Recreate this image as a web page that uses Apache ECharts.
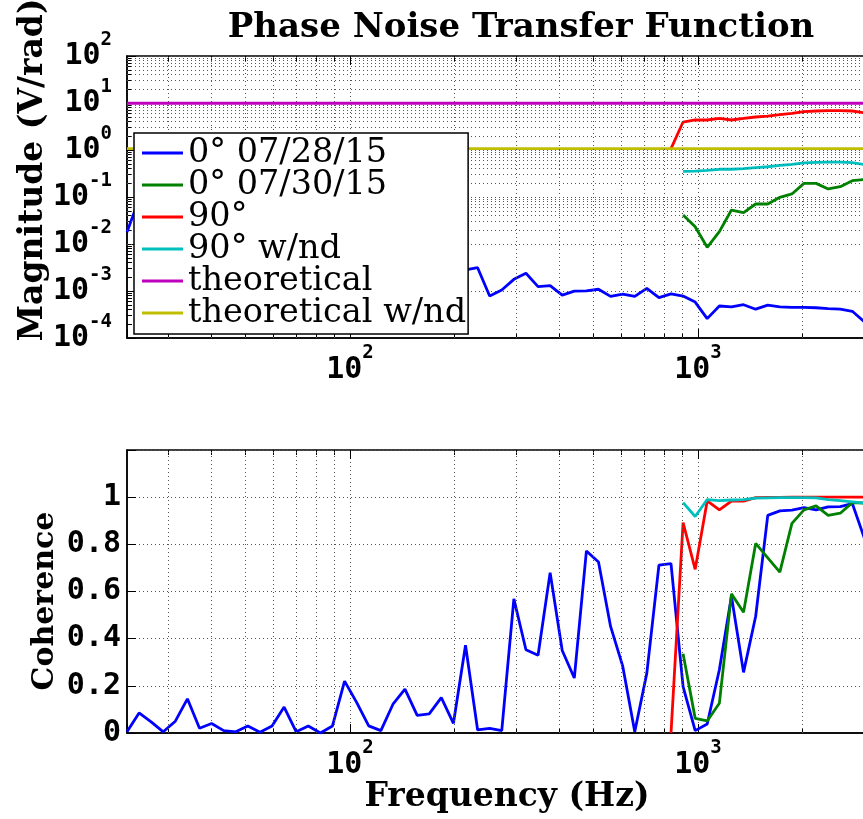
<!DOCTYPE html>
<html><head><meta charset="utf-8">
<script src="https://cdn.jsdelivr.net/npm/echarts@6/dist/echarts.min.js"></script>
<style>html,body{margin:0;padding:0;background:#fff}#c{width:863px;height:819px}</style>
</head><body><div id="c"></div><script>
const freq = [22.87, 24.77, 26.83, 29.07, 31.49, 34.11, 36.95, 40.03, 43.37, 46.97,
  50.88, 55.12, 59.71, 64.68, 70.07, 75.90, 82.22, 89.07, 96.49, 104.5,
  113.2, 122.7, 132.9, 143.9, 156.0, 168.9, 183.0, 198.3, 214.8, 232.7,
  252.0, 273.0, 295.8, 320.4, 347.1, 376.0, 407.3, 441.2, 478.0, 517.8,
  560.9, 607.5, 658.2, 712.9, 772.4, 836.6, 906.2, 981.7, 1063, 1152,
  1248, 1352, 1465, 1587, 1719, 1862, 2017, 2185, 2367, 2564, 2777, 3008];

const names = ['0° 07/28/15', '0° 07/30/15', '90°', '90° w/nd', 'theoretical', 'theoretical w/nd'];
const colors = ['#0000ff', '#008000', '#ff0000', '#00bfbf', '#bf00bf', '#bfbf00'];

// Magnitude (V/rad)
const magBlue = [0.018, 0.09, 0.05, 0.03, 0.04, 0.02, 0.025, 0.015, 0.012, 0.01,
  0.011, 0.008, 0.009, 0.007, 0.006, 0.0065, 0.005, 0.0055, 0.0045, 0.004,
  0.0042, 0.0035, 0.0038, 0.0033, 0.003, 0.0032, 0.0029, 0.0031, 0.0028,
  0.00313, 0.00078, 0.00105, 0.00177, 0.00238, 0.00124, 0.0013, 0.00082, 0.00099, 0.00101,
  0.00109, 0.00077, 0.00086, 0.00077, 0.00114, 0.00072, 0.00087, 0.00078, 0.00058, 0.000258,
  0.00048, 0.00046, 0.00051, 0.00041, 0.0005, 0.00046, 0.00045, 0.00045, 0.00044, 0.00042,
  0.00041, 0.00037, 0.00022];
const greenStart = 46;
const magGreen = [0.0414, 0.0233, 0.0085, 0.0183, 0.0528, 0.0464, 0.071, 0.071, 0.0986, 0.116,
  0.195, 0.195, 0.148, 0.166, 0.222, 0.235];
const redStart = 45;
const magRed = [1.07, 3.94, 4.35, 4.35, 4.72, 4.35, 4.72, 5.04, 5.28, 5.64, 6.03, 6.53, 6.76,
  6.86, 6.86, 6.76, 6.2];
const cyanStart = 46;
const magCyan = [0.352, 0.356, 0.37, 0.389, 0.389, 0.4, 0.42, 0.44, 0.47, 0.495, 0.53, 0.547,
  0.55, 0.55, 0.537, 0.49];
const theory = [9.87, 9.87];
const theoryNd = [1.07, 1.07];

// Coherence
const cohBlue = [0.005, 0.085, 0.047, 0.005, 0.05, 0.145, 0.02, 0.04, 0.01, 0.005,
  0.03, 0.003, 0.03, 0.11, 0.005, 0.03, 0.0, 0.03, 0.22, 0.13,
  0.03, 0.01, 0.122, 0.186, 0.075, 0.081, 0.15, 0.041, 0.372, 0.013,
  0.02, 0.01, 0.569, 0.353, 0.33, 0.68, 0.35, 0.233, 0.772, 0.725,
  0.452, 0.285, 0.005, 0.254, 0.712, 0.718, 0.197, 0.01, 0.038, 0.268,
  0.58, 0.257, 0.495, 0.923, 0.942, 0.945, 0.956, 0.946, 0.959, 0.96, 0.973, 0.826];
const cohGreen = [0.336, 0.062, 0.051, 0.126, 0.59, 0.512, 0.804, 0.743, 0.682, 0.889,
  0.946, 0.963, 0.923, 0.932, 0.977, 0.975];
const cohRed = [0, 0.892, 0.694, 0.984, 0.946, 0.983, 0.983, 0.998, 0.999, 0.999, 1.0, 1.0,
  1.0, 1.0, 1.0, 1.0, 1.0];
const cohCyan = [0.977, 0.918, 0.99, 0.985, 0.988, 0.99, 0.996, 0.997, 0.998, 0.998, 0.998,
  0.997, 0.99, 0.985, 0.98, 0.975];

// Axis ranges, tick and grid-line positions
const X_MIN = 22.87, X_MAX = 3184;
const xMajor = [100, 1000];
const xMinorGrid = [30, 40, 50, 60, 70, 80, 90, 200, 300, 400, 500, 600, 700, 800, 900, 2000, 3000];
const yMagMajor = [1e-4, 1e-3, 1e-2, 1e-1, 1, 10, 100];
const yMagMinorGrid = [];
yMagMajor.slice(0, 6).forEach(d => { for (let k = 2; k <= 9; k++) yMagMinorGrid.push(+(k * d).toPrecision(3)); });

const pts = (arr, start) => arr.map((v, k) => [freq[start + k], v]);
const ends = arr => [[freq[0], arr[0]], [freq[freq.length - 1], arr[1]]];

const MONO = 'DejaVu Sans Mono';
const rich = {
  b: { fontFamily: MONO, fontWeight: 'bold', fontSize: 30, lineHeight: 31, color: '#000', verticalAlign: 'bottom' },
  s: { fontFamily: MONO, fontWeight: 'bold', fontSize: 19, lineHeight: 19, color: '#000', padding: [0, 0, 22, 0], verticalAlign: 'bottom' }
};
const powLabel = v => {
  const l = Math.log10(v), e = Math.round(l);
  if (Math.abs(l - e) > 1e-6) return '';
  return '{b|10}{s|' + e + '}';
};
const dotted = { color: '#555', width: 1, type: [1, 3] };
const axLine = { show: true, lineStyle: { color: '#000', width: 1.5 } };
const tickStyle = { color: '#000', width: 1 };

function xAxisCfg(gi) {
  return {
    type: 'log', logBase: 10, gridIndex: gi, min: X_MIN, max: X_MAX,
    axisLine: axLine,
    axisTick: { show: true, inside: true, length: 9, lineStyle: tickStyle },
    axisLabel: { formatter: powLabel, rich: rich, margin: 16 },
    splitLine: { show: true, lineStyle: dotted }
  };
}
// extra axes used only to draw minor / opposite-side tick marks
function xTickAxis(gi, pos, values, len) {
  return {
    type: 'log', logBase: 10, gridIndex: gi, min: X_MIN, max: X_MAX, position: pos,
    axisLine: { show: false }, axisLabel: { show: false }, splitLine: { show: false },
    axisTick: { show: true, inside: true, length: len, customValues: values, lineStyle: tickStyle }
  };
}

function gridSeries(xi, yi, yVals) {
  const data = xMinorGrid.map(v => ({ xAxis: v }));
  yVals.forEach(v => data.push({ yAxis: v }));
  return {
    type: 'line', xAxisIndex: xi, yAxisIndex: yi, data: [], silent: true,
    markLine: { silent: true, symbol: ['none', 'none'], label: { show: false },
      lineStyle: dotted, animation: false, data: data }
  };
}

function line(name, color, data, xi, yi) {
  return { name: name, type: 'line', xAxisIndex: xi, yAxisIndex: yi, data: data,
    showSymbol: false, symbol: 'none', animation: false,
    lineStyle: { color: color, width: 2.8 }, itemStyle: { color: color } };
}

const chart = echarts.init(document.getElementById('c'), null, { renderer: 'canvas' });
chart.setOption({
  backgroundColor: '#fff',
  animation: false,
  grid: [
    { left: 127, top: 56, width: 746, height: 282, show: true, borderColor: '#000', borderWidth: 1.5, outerBoundsMode: 'none', containLabel: false },
    { left: 127, top: 450, width: 746, height: 283, show: true, borderColor: '#000', borderWidth: 1.5, outerBoundsMode: 'none', containLabel: false }
  ],
  xAxis: [
    xAxisCfg(0), xAxisCfg(1),
    xTickAxis(0, 'bottom', xMinorGrid, 5), xTickAxis(0, 'top', xMinorGrid, 5), xTickAxis(0, 'top', xMajor, 9),
    xTickAxis(1, 'bottom', xMinorGrid, 5), xTickAxis(1, 'top', xMinorGrid, 5), xTickAxis(1, 'top', xMajor, 9)
  ],
  yAxis: [
    { type: 'log', logBase: 10, gridIndex: 0, min: 1e-4, max: 100,
      axisLine: axLine,
      axisTick: { show: true, inside: true, length: 9, lineStyle: tickStyle },
      axisLabel: { formatter: powLabel, rich: rich, margin: 15 },
      splitLine: { show: true, lineStyle: dotted } },
    { type: 'value', gridIndex: 1, min: 0, max: 1.2, interval: 0.2,
      axisLine: axLine,
      axisTick: { show: true, inside: true, length: 9, lineStyle: tickStyle },
      axisLabel: { margin: 6, color: '#000', fontFamily: MONO, fontWeight: 'bold', fontSize: 30,
        formatter: v => { const r = Math.round(v * 10) / 10; if (r > 1.05) return ''; return (r === 0 || r === 1) ? String(r) : r.toFixed(1); } },
      splitLine: { show: true, lineStyle: dotted } },
    { type: 'log', logBase: 10, gridIndex: 0, min: 1e-4, max: 100, position: 'left',
      axisLine: { show: false }, axisLabel: { show: false }, splitLine: { show: false },
      axisTick: { show: true, inside: true, length: 5, customValues: yMagMinorGrid, lineStyle: tickStyle } }
  ],
  legend: {
    data: names, orient: 'vertical', left: 134, top: 133, padding: [3, 2, 4, 8], itemGap: -2,
    itemWidth: 41, itemHeight: 3, icon: 'rect', selectedMode: false, backgroundColor: '#fff',
    borderColor: '#000', borderWidth: 1.5, borderRadius: 0, z: 10,
    textStyle: { fontFamily: 'DejaVu Serif', fontSize: 33.5, lineHeight: 32, color: '#000' }
  },
  graphic: [
    { type: 'text', x: 521, y: 28, style: { text: 'Phase Noise Transfer Function', font: 'bold 34px "DejaVu Serif"', fill: '#000', align: 'center', verticalAlign: 'middle' } },
    { type: 'text', x: 33, y: 170, rotation: Math.PI / 2, style: { text: 'Magnitude (V/rad)', font: 'bold 33px "DejaVu Serif"', fill: '#000', align: 'center', verticalAlign: 'middle' } },
    { type: 'text', x: 45, y: 601, rotation: Math.PI / 2, style: { text: 'Coherence', font: 'bold 30px "DejaVu Serif"', fill: '#000', align: 'center', verticalAlign: 'middle' } },
    { type: 'text', x: 507, y: 797, style: { text: 'Frequency (Hz)', font: 'bold 33px "DejaVu Serif"', fill: '#000', align: 'center', verticalAlign: 'middle' } }
  ],
  series: [
    gridSeries(0, 0, yMagMinorGrid),
    gridSeries(1, 1, []),
    line(names[0], colors[0], pts(magBlue, 0), 0, 0),
    line(names[1], colors[1], pts(magGreen, greenStart), 0, 0),
    line(names[2], colors[2], pts(magRed, redStart), 0, 0),
    line(names[3], colors[3], pts(magCyan, cyanStart), 0, 0),
    line(names[4], colors[4], ends(theory), 0, 0),
    line(names[5], colors[5], ends(theoryNd), 0, 0),
    line(names[0], colors[0], pts(cohBlue, 0), 1, 1),
    line(names[1], colors[1], pts(cohGreen, greenStart), 1, 1),
    line(names[2], colors[2], pts(cohRed, redStart), 1, 1),
    line(names[3], colors[3], pts(cohCyan, cyanStart), 1, 1)
  ]
});
</script></body></html>
